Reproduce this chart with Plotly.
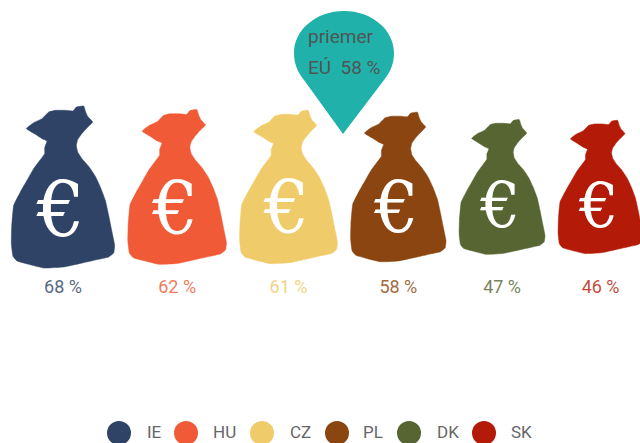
import numpy as np
import plotly.graph_objects as go

countries = ["IE", "HU", "CZ", "PL", "DK", "SK"]
shares = [68, 62, 61, 58, 47, 46]
colors = ["#2e4365", "#f15a36", "#f0cb69", "#8a4510", "#566532", "#b41a08"]
eu_label = ["priemer", "EÚ  58 %"]

# bag silhouette (template units, centred)
bag_x = [228,250,256,262,277,268,255,243,232,228,232,245,265,285,300,315,325,335,343,340,325,295,250,190,130,85,50,38,33,34,40,60,80,100,117,133,133,140,125,105,78,85,100,125,145,165,195,218,228]
bag_y = [50,47,65,78,95,105,118,132,148,165,185,205,228,258,290,330,375,425,465,488,500,507,517,530,533,522,512,498,460,410,345,305,270,235,212,190,172,152,145,132,115,108,97,85,65,60,60,62,50]
bag_x = (np.array(bag_x) - 188) / 3
bag_y = (np.array(bag_y) - 290) / 3

FIRST_CENTER, MID_Y, GAP = 63, 187, 12.5
scales = np.sqrt(np.array(shares) / max(shares))
widths = 104 * scales
centers = FIRST_CENTER + np.concatenate([[0], np.cumsum((widths[:-1] + widths[1:]) / 2 + GAP)])

fig = go.Figure()
for c, s, col, sc, cx in zip(countries, shares, colors, scales, centers):
    fig.add_trace(go.Scatter(x=cx + bag_x * sc, y=MID_Y + bag_y * sc, mode="lines", fill="toself",
                             fillcolor=col, line=dict(color=col, width=0.5, shape="spline", smoothing=0.3),
                             name=c, hoverinfo="skip", showlegend=False))
    fig.add_trace(go.Scatter(x=[cx - 2 * sc], y=[MID_Y + 30 * sc], mode="text", text=["€"],
                             textfont=dict(family="DejaVu Serif", size=76 * sc, color="#ffffff"),
                             textposition="middle center", hoverinfo="skip", showlegend=False))
    fig.add_trace(go.Scatter(x=[cx], y=[288], mode="text", text=[f"{s} %"],
                             textfont=dict(family="Roboto", size=18, color=col),
                             textposition="middle center", opacity=0.8, hoverinfo="skip", showlegend=False))

# hand-made legend row
legend_x = [119, 186, 262, 337, 409, 484]
legend_text_x = [147, 213, 290, 363, 437, 511]
fig.add_trace(go.Scatter(x=legend_x, y=[433] * 6, mode="markers",
                         marker=dict(size=24, color=colors, line=dict(width=0)), hoverinfo="skip", showlegend=False))
fig.add_trace(go.Scatter(x=legend_text_x, y=[434] * 6, mode="text", text=countries,
                         textfont=dict(family="Roboto", size=17, color="#666666"),
                         textposition="middle right", hoverinfo="skip", showlegend=False))

# EU average pin
fig.add_shape(type="path",
              path="M 343 134 L 304 80 C 297 71 294 63 294 53 C 294 30 316 11 344 11 C 372 11 394 30 394 53 C 394 63 391 71 384 80 Z",
              fillcolor="#20b2aa", line=dict(width=0), layer="below")
fig.add_trace(go.Scatter(x=[308, 308], y=[38, 69], mode="text", text=eu_label,
                         textfont=dict(family="Roboto", size=19, color="#4f5655"),
                         textposition="middle right", hoverinfo="skip", showlegend=False))

fig.update_layout(width=640, height=443, margin=dict(l=0, r=0, t=0, b=0),
                  paper_bgcolor="white", plot_bgcolor="white", showlegend=False,
                  xaxis=dict(range=[0, 640], visible=False, fixedrange=True),
                  yaxis=dict(range=[443, 0], visible=False, fixedrange=True))
fig.write_html("out.html", post_script="document.body.style.margin='0';", config={"displayModeBar": False})
